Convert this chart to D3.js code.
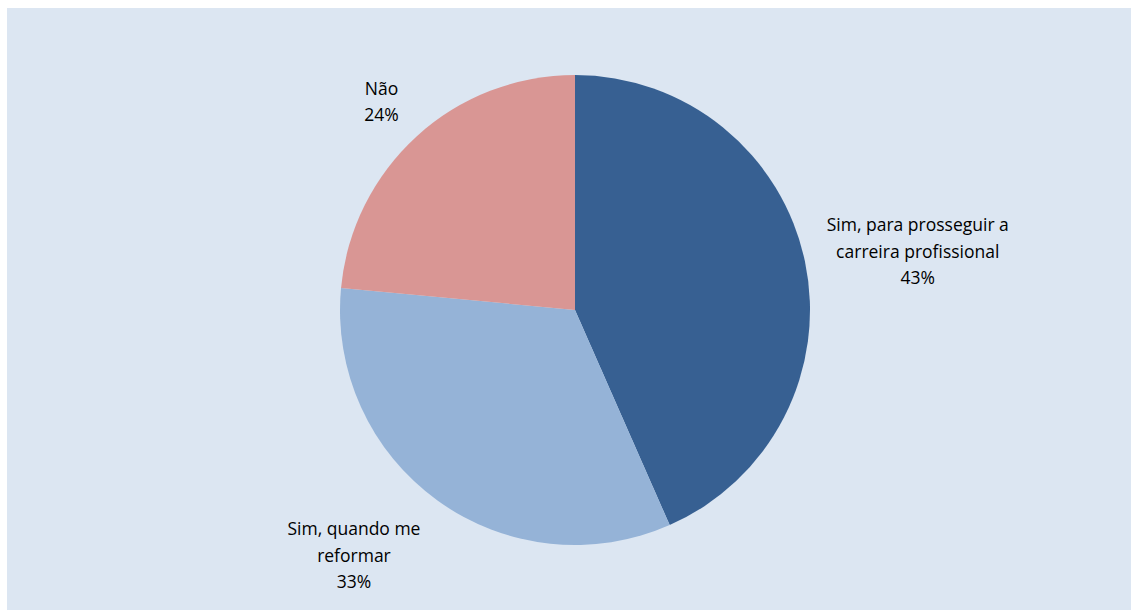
<!DOCTYPE html>
<html>
<head>
<meta charset="utf-8">
<script src="https://cdn.jsdelivr.net/npm/d3@7"></script>
<style>
  html, body { margin: 0; padding: 0; background: #ffffff; }
  svg { display: block; }
  text { font-family: "Open Sans", Lato, sans-serif; font-size: 17.5px; fill: #000; }
</style>
</head>
<body>
<script>
// chart data
const categories = ["Sim, para prosseguir a carreira profissional", "Sim, quando me reformar", "Não"];
const labelLines = [["Sim, para prosseguir a", "carreira profissional"], ["Sim, quando me", "reformar"], ["Não"]];
const values = [43.4, 33.1, 23.5];
const colors = ["#376092", "#95b3d7", "#d99694"];

const width = 1131, height = 610;
const cx = 575, cy = 310, radius = 235;
const lineHeight = 26.5;

const svg = d3.select("body").append("svg")
  .attr("width", width)
  .attr("height", height);

svg.append("rect")
  .attr("x", 7)
  .attr("y", 8)
  .attr("width", width - 7)
  .attr("height", height - 8)
  .attr("fill", "#dce6f2");

const g = svg.append("g")
  .attr("transform", `translate(${cx},${cy})`);

const total = d3.sum(values);
const pie = d3.pie().sort(null).value(d => d);
const arcs = pie(values);

const arc = d3.arc().innerRadius(0).outerRadius(radius);

g.selectAll(".slice")
  .data(arcs)
  .enter()
  .append("path")
  .attr("class", "slice")
  .attr("d", arc)
  .attr("fill", (d, i) => colors[i]);

// labels, placed outside each slice
const labels = g.selectAll(".label")
  .data(arcs)
  .enter()
  .append("text")
  .attr("class", "label")
  .attr("text-anchor", "middle");

labels.each(function (d, i) {
  const pct = Math.round(d.value * 100 / total) + "%";
  const lines = [...labelLines[i], pct];
  const t = d3.select(this);
  t.selectAll("tspan")
    .data(lines)
    .enter()
    .append("tspan")
    .attr("x", 0)
    .attr("dy", (s, k) => k === 0 ? 0 : lineHeight)
    .text(s => s);

  const bb = this.getBBox();
  const mid = (d.startAngle + d.endAngle) / 2;
  const dx = Math.sin(mid), dy = -Math.cos(mid);
  const r = radius + 12;
  const h = lines.length * lineHeight;
  const x = r * dx + Math.sign(dx) * (bb.width / 2 + 10);
  const y = r * dy + dy * (h / 2 + 12);
  // center block on (x, y)
  const firstBaseline = y - h / 2 + lineHeight * 0.85;
  t.attr("transform", `translate(${x},${firstBaseline})`);
});
</script>
</body>
</html>
